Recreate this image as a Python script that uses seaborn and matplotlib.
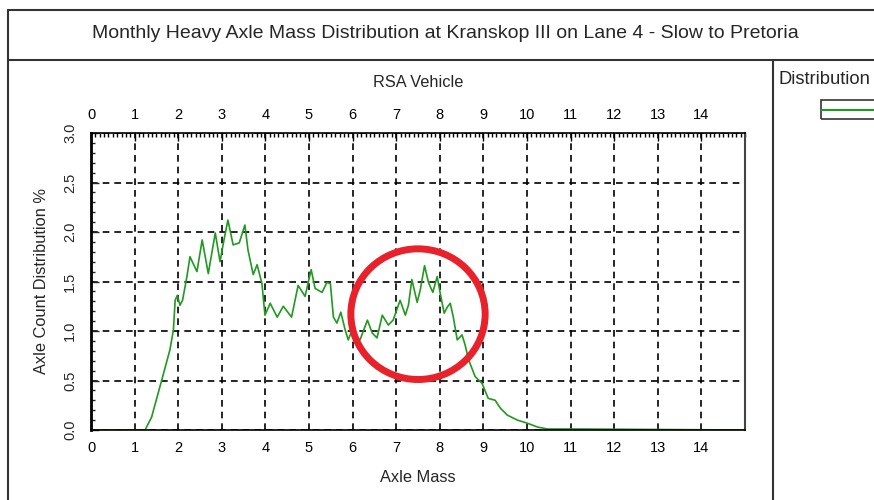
import matplotlib
matplotlib.use('Agg')
import matplotlib.pyplot as plt
import seaborn as sns
import pandas as pd
from matplotlib.lines import Line2D
from matplotlib.patches import Rectangle, Ellipse
from matplotlib.ticker import MultipleLocator, FormatStrFormatter

# axle mass (x) and axle count distribution % (y)
axle_mass = [0, 1.24, 1.39, 1.62, 1.81, 1.89, 1.93, 1.98, 2.04, 2.10, 2.20, 2.27, 2.43,
             2.55, 2.69, 2.85, 2.96, 3.05, 3.14, 3.26, 3.40, 3.53, 3.60, 3.72, 3.81,
             3.92, 3.99, 4.11, 4.27, 4.41, 4.60, 4.75, 4.91, 5.05, 5.14, 5.30, 5.41,
             5.49, 5.56, 5.64, 5.73, 5.83, 5.90, 5.99, 6.06, 6.17, 6.34, 6.45, 6.56,
             6.68, 6.82, 6.93, 7.09, 7.21, 7.28, 7.36, 7.48, 7.55, 7.65, 7.74, 7.84,
             7.94, 8.01, 8.10, 8.17, 8.24, 8.31, 8.40, 8.51, 8.58, 8.66, 8.81, 8.97,
             9.11, 9.27, 9.39, 9.55, 9.78, 10.00, 10.24, 10.47, 11.15, 15.0]
dist_pct = [0, 0, 0.13, 0.50, 0.81, 1.01, 1.31, 1.36, 1.26, 1.31, 1.55, 1.75, 1.60,
            1.92, 1.58, 1.99, 1.70, 1.92, 2.12, 1.87, 1.89, 2.07, 1.82, 1.57, 1.67,
            1.48, 1.16, 1.28, 1.14, 1.25, 1.14, 1.46, 1.35, 1.62, 1.43, 1.39, 1.49,
            1.48, 1.14, 1.08, 1.19, 1.01, 0.91, 1.01, 0.94, 0.91, 1.11, 0.98, 0.93,
            1.16, 1.06, 1.11, 1.31, 1.16, 1.26, 1.52, 1.29, 1.41, 1.66, 1.49, 1.39,
            1.55, 1.38, 1.18, 1.24, 1.28, 1.14, 0.91, 0.96, 0.86, 0.71, 0.54, 0.47,
            0.32, 0.30, 0.22, 0.15, 0.10, 0.07, 0.03, 0.01, 0.01, 0.0]
x_ticks = list(range(0, 15))
y_ticks = [0.0, 0.5, 1.0, 1.5, 2.0, 2.5, 3.0]

df = pd.DataFrame({'mass': axle_mass, 'pct': dist_pct})

sns.set_style('white')
plt.rcParams['font.family'] = ['Liberation Sans', 'DejaVu Sans']

fig = plt.figure(figsize=(8.74, 5.0), dpi=100)
ax = fig.add_axes([91 / 874, 70 / 500, 654 / 874, 297 / 500])

green = '#1f9a1f'
sns.lineplot(data=df, x='mass', y='pct', ax=ax, color=green, linewidth=1.2,
             estimator=None, sort=False)

ax.set_xlim(0, 15)
ax.set_ylim(0, 3.0)
ax.set_xticks(x_ticks)
ax.set_yticks(y_ticks)
ax.yaxis.set_major_formatter(FormatStrFormatter('%.1f'))
ax.xaxis.set_minor_locator(MultipleLocator(0.1))
ax.yaxis.set_minor_locator(MultipleLocator(0.1))
ax.tick_params(axis='x', which='both', direction='in', top=True, labeltop=True,
               labelsize=10.5, colors='black', pad=8)
ax.tick_params(axis='x', which='major', length=6, width=1)
ax.tick_params(axis='x', which='minor', length=3, width=1)
ax.tick_params(axis='y', which='both', direction='in', left=True, right=False,
               labelsize=10.5, pad=10)
ax.tick_params(axis='y', which='major', length=6, width=1)
ax.tick_params(axis='y', which='minor', length=3, width=1)
for lbl in ax.get_yticklabels():
    lbl.set_rotation(90)
    lbl.set_va('center')

ax.grid(True, which='major', color='black', linestyle=(0, (4, 3)), linewidth=1.2)
for side in ['left', 'bottom', 'top']:
    ax.spines[side].set_color('black')
    ax.spines[side].set_linewidth(1.2)
ax.spines['left'].set_linewidth(2)
ax.spines['right'].set_color('#444444')
ax.spines['right'].set_linewidth(1.5)

ax.set_xlabel('Axle Mass', fontsize=11.8, labelpad=11)
ax.set_ylabel('Axle Count Distribution %', fontsize=11.8, labelpad=10)
ax.set_title('RSA Vehicle', fontsize=11.8, pad=33)

# highlight ring
ax.add_patch(Ellipse((7.5, 1.17), 3.08, 1.32, fill=False, edgecolor='#e8212b',
                     linewidth=5, zorder=5, clip_on=False))

# outer frame, title band and legend divider
frame = '#333333'
fig.add_artist(Line2D([8 / 874, 1], [0.98, 0.98], color=frame, lw=1.5))
fig.add_artist(Line2D([8 / 874, 8 / 874], [0, 0.98], color=frame, lw=1.5))
fig.add_artist(Line2D([8 / 874, 1], [0.88, 0.88], color=frame, lw=1.5))
fig.add_artist(Line2D([773 / 874, 773 / 874], [0, 0.88], color=frame, lw=1.5))
fig.text(445 / 874, 1 - 33 / 500,
         'Monthly Heavy Axle Mass Distribution at Kranskop III on Lane 4 - Slow to Pretoria',
         ha='center', va='center', fontsize=14)

# legend
fig.text(779 / 874, 1 - 80 / 500, 'Distribution', ha='left', va='center', fontsize=13.2)
fig.add_artist(Rectangle((821 / 874, 1 - 119 / 500), 80 / 874, 19 / 500,
                         fill=False, edgecolor=frame, lw=1.2))
fig.add_artist(Line2D([821 / 874, 1], [1 - 110 / 500, 1 - 110 / 500], color=green, lw=1.5))

fig.savefig('out.png', dpi=100)
